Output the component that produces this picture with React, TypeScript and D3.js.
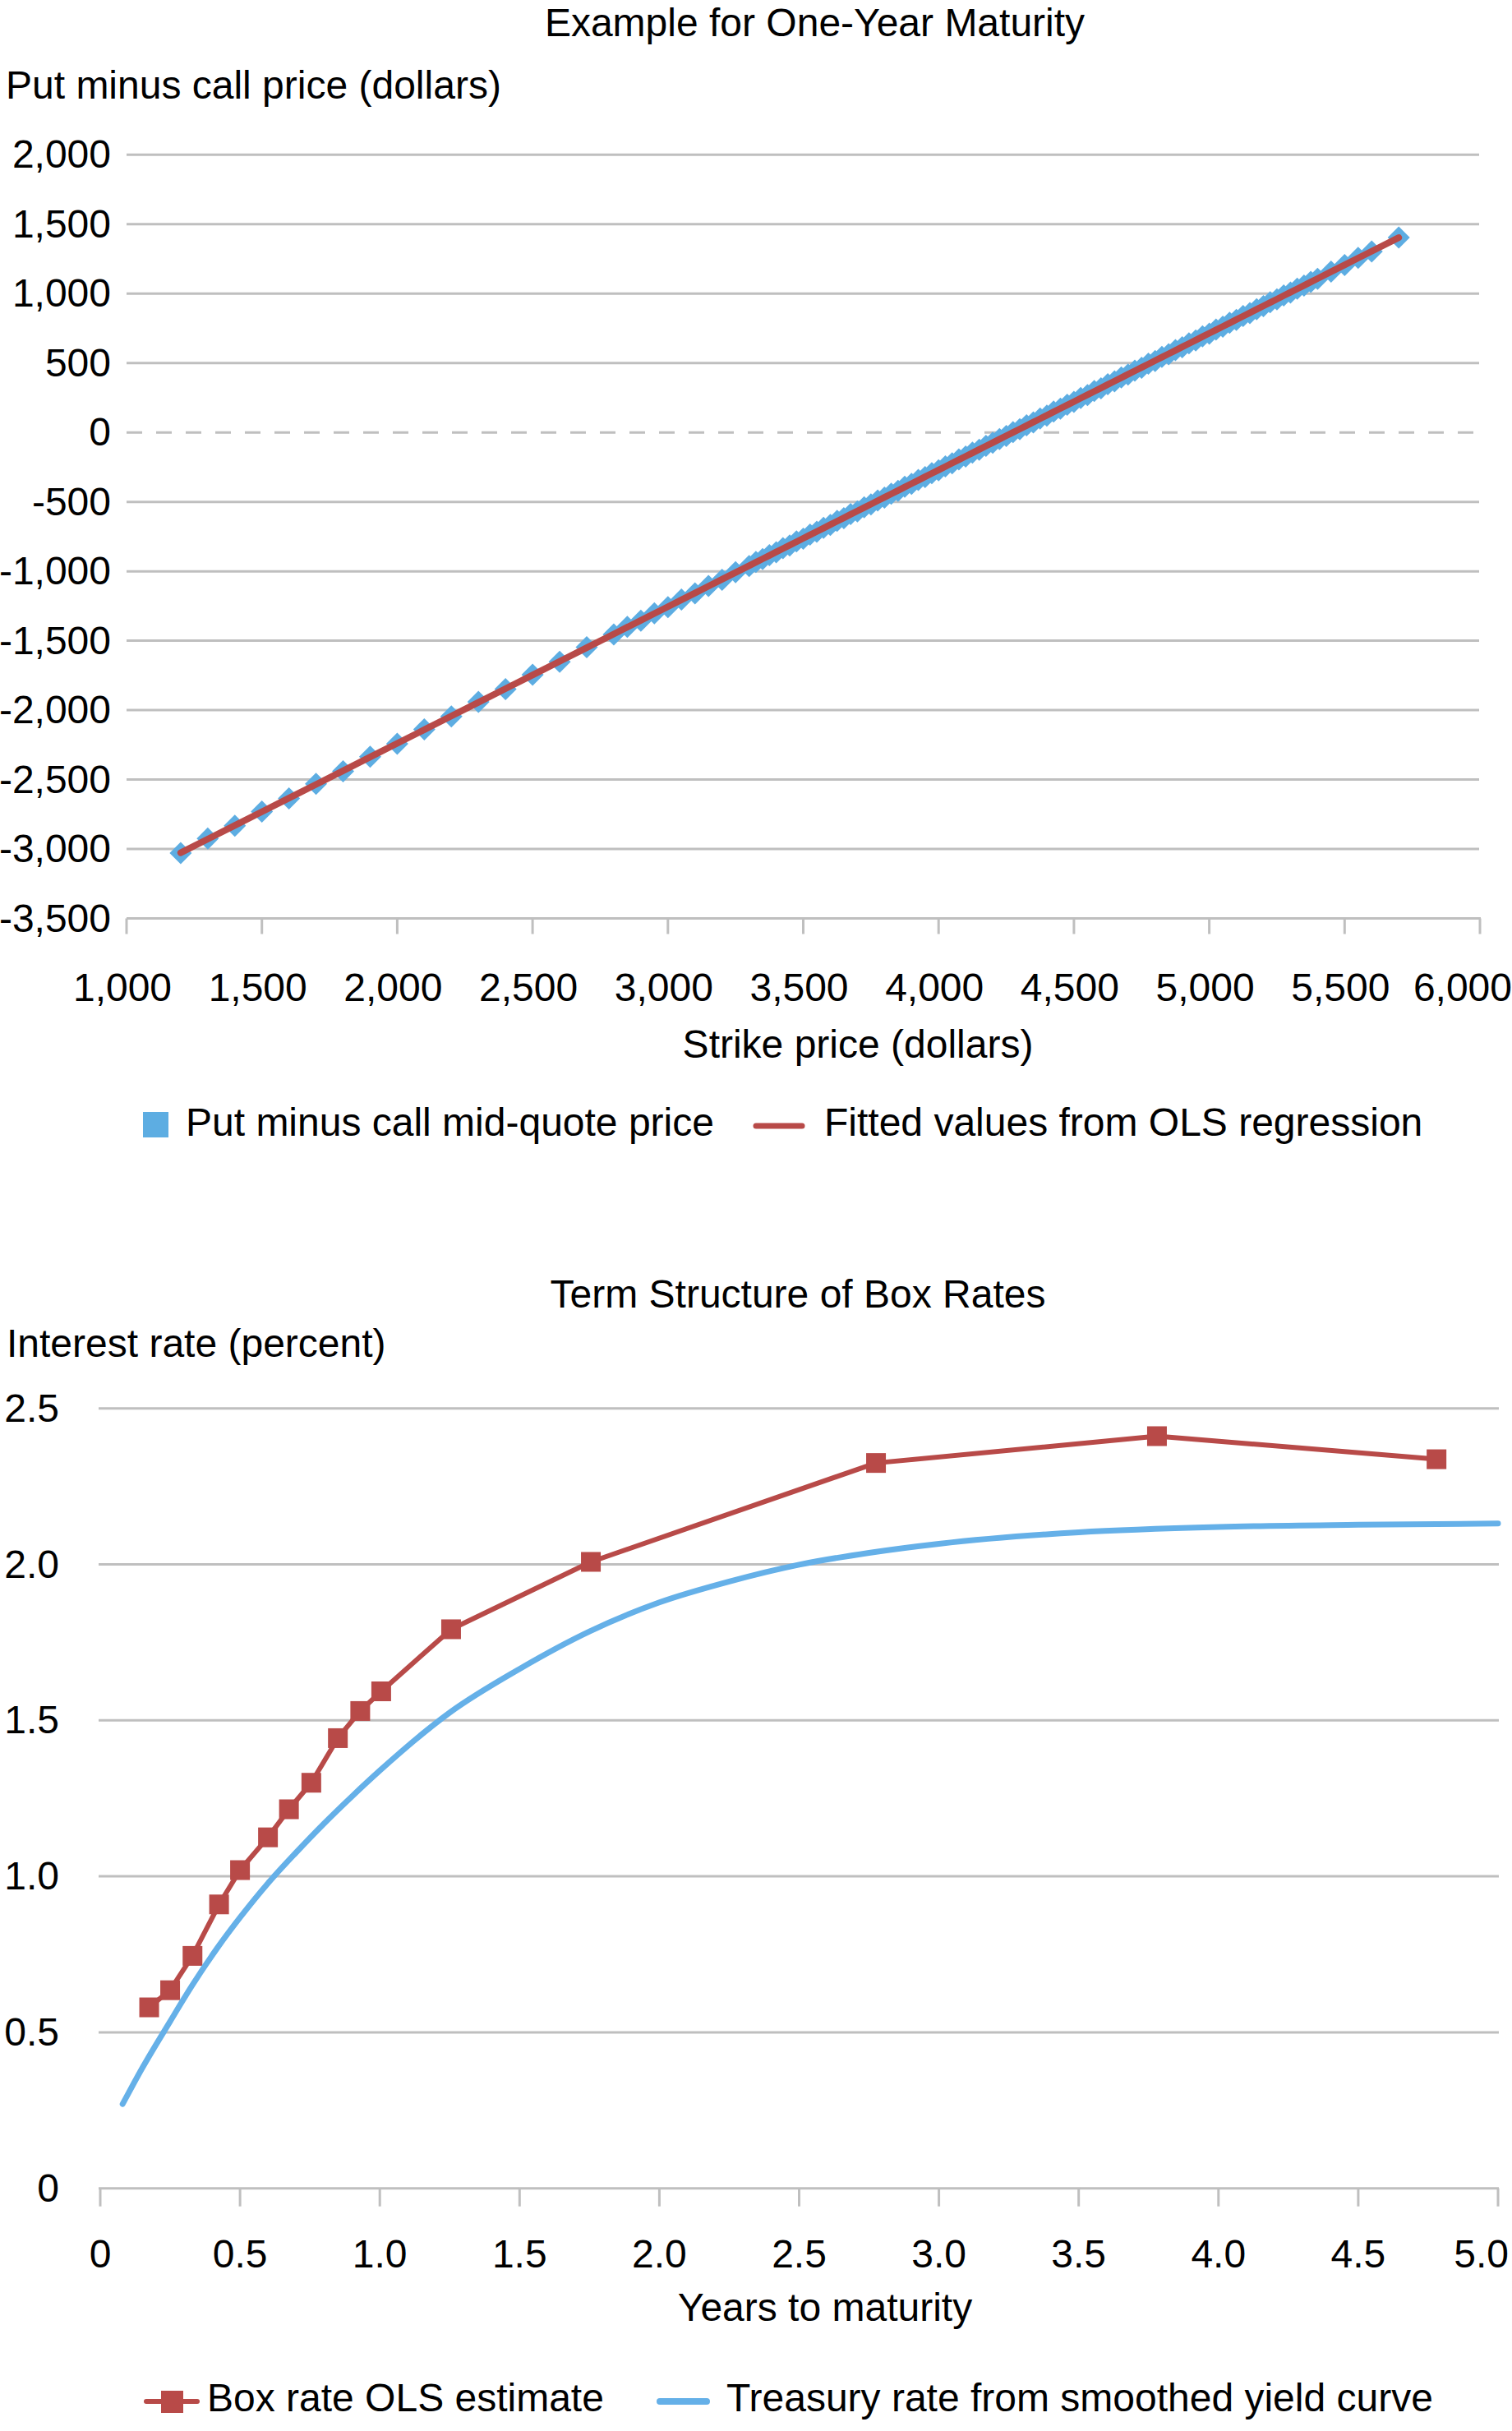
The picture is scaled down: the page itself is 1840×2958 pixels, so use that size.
import React from "react";
import * as d3 from "d3";

// ---------- Top chart data ----------
const strikes = [
  1200, 1300, 1400, 1500, 1600, 1700, 1800, 1900, 2000, 2100, 2200, 2300, 2400, 2500, 2600, 2700, 2800,
  2850, 2900, 2950, 3000, 3050, 3100, 3150, 3200, 3250, 3300,
  3325, 3350, 3375, 3400, 3425, 3450, 3475, 3500, 3525, 3550, 3575, 3600, 3625, 3650, 3675, 3700,
  3725, 3750, 3775, 3800, 3825, 3850, 3875, 3900, 3925, 3950, 3975, 4000, 4025, 4050, 4075, 4100,
  4125, 4150, 4175, 4200, 4225, 4250, 4275, 4300, 4325, 4350, 4375, 4400, 4425, 4450, 4475, 4500,
  4525, 4550, 4575, 4600, 4625, 4650, 4675, 4700, 4725, 4750, 4775, 4800, 4825, 4850, 4875, 4900,
  4925, 4950, 4975, 5000, 5025, 5050, 5075, 5100, 5125, 5150, 5175, 5200, 5225, 5250, 5275, 5300,
  5325, 5350, 5375, 5400,
  5450, 5500, 5550, 5600, 5700,
];
const putMinusCall = [
  -3030, -2925, -2833, -2730, -2636, -2531, -2440, -2335, -2242, -2138, -2045, -1940, -1849, -1745, -1652, -1547, -1455,
  -1400, -1356, -1302, -1258, -1203, -1159, -1105, -1061, -1006, -962,
  -933, -912, -884, -863, -834, -814, -785, -765, -736, -715, -687, -666, -637, -617, -588, -568,
  -539, -518, -490, -469, -441, -420, -391, -371, -342, -322, -293, -272, -244, -223, -194, -174,
  -145, -125, -96, -75, -47, -26, 2, 23, 52, 72, 101, 121, 150, 171, 199, 220,
  248, 269, 298, 318, 347, 368, 396, 417, 445, 466, 495, 515, 544, 564, 593, 614,
  642, 663, 692, 712, 741, 761, 790, 811, 839, 860, 888, 909, 938, 958, 987, 1008,
  1036, 1057, 1085, 1106,
  1158, 1206, 1257, 1304, 1404,
];
const strikeTicks = [1000, 1500, 2000, 2500, 3000, 3500, 4000, 4500, 5000, 5500, 6000];
const priceTicks = [2000, 1500, 1000, 500, 0, -500, -1000, -1500, -2000, -2500, -3000, -3500];

// ---------- Bottom chart data ----------
const boxMaturity = [0.175, 0.25, 0.33, 0.425, 0.5, 0.6, 0.675, 0.755, 0.85, 0.93, 1.005, 1.255, 1.755, 2.775, 3.78, 4.78];
const boxRate = [0.58, 0.635, 0.745, 0.91, 1.02, 1.125, 1.215, 1.3, 1.443, 1.53, 1.593, 1.792, 2.008, 2.325, 2.411, 2.337];
const treasuryMaturity = [0.08, 0.15, 0.25, 0.33, 0.42, 0.5, 0.6, 0.7, 0.8, 0.9, 1.0, 1.25, 1.5, 1.75, 2.0, 2.25, 2.5, 2.75, 3.0, 3.5, 4.0, 4.5, 5.0];
const treasuryRate = [0.27, 0.385, 0.535, 0.652, 0.772, 0.868, 0.978, 1.076, 1.169, 1.256, 1.339, 1.525, 1.665, 1.785, 1.878, 1.945, 1.999, 2.037, 2.066, 2.103, 2.12, 2.127, 2.131];
const yearTicks = [0, 0.5, 1.0, 1.5, 2.0, 2.5, 3.0, 3.5, 4.0, 4.5, 5.0];
const rateTicks = [0, 0.5, 1.0, 1.5, 2.0, 2.5];

const FONT = "'Liberation Sans', Arial, Helvetica, sans-serif";
const FS = 48;
const GRID = "#bfbfbf";
const RED = "#b84a48";
const BLUE_PT = "#5dade2";
const BLUE_LN = "#65b0e8";

const fmtPrice = (v: number) => (v < 0 ? "-" : "") + d3.format(",")(Math.abs(v));
const fmtYear = (v: number) => (v === 0 ? "0" : d3.format(".1f")(v));

export default function App() {
  // ---- top scales ----
  const xT = d3.scaleLinear().domain([1000, 6000]).range([154, 1801]);
  const yT = d3.scaleLinear().domain([-3500, 2000]).range([1117.5, 188.3]);

  // OLS fit of put-minus-call on strike
  const mx = d3.mean(strikes) as number;
  const my = d3.mean(putMinusCall) as number;
  let sxy = 0, sxx = 0;
  strikes.forEach((k, i) => {
    sxy += (k - mx) * (putMinusCall[i] - my);
    sxx += (k - mx) * (k - mx);
  });
  const slope = sxy / sxx;
  const intercept = my - slope * mx;
  const fitted = strikes.map((k) => intercept + slope * k);
  const fitLine = d3
    .line<number>()
    .x((_, i) => xT(strikes[i]))
    .y((v) => yT(v))(fitted) as string;

  const r = 13.5;
  const diamond = `M0,${-r}L${r},0L0,${r}L${-r},0Z`;

  // ---- bottom scales ----
  const xB = d3.scaleLinear().domain([0, 5]).range([122, 1823]);
  const yB = d3.scaleLinear().domain([0, 2.5]).range([2662.7, 1713.7]);
  const boxLine = d3
    .line<number>()
    .x((_, i) => xB(boxMaturity[i]))
    .y((v) => yB(v))(boxRate) as string;
  const tsyLine = d3
    .line<number>()
    .curve(d3.curveMonotoneX)
    .x((_, i) => xB(treasuryMaturity[i]))
    .y((v) => yB(v))(treasuryRate) as string;

  const sq = 24;

  return (
    <svg
      width={1840}
      height={2958}
      style={{ position: "absolute", left: 0, top: 0, background: "#fff" }}
      fontFamily={FONT}
      fontSize={FS}
    >
      <rect x={0} y={0} width={1840} height={2958} fill="#fff" />

      {/* ================= TOP CHART ================= */}
      <text x={991.5} y={44} textAnchor="middle" fill="#000">
        Example for One-Year Maturity
      </text>
      <text x={7} y={120} fill="#000">
        Put minus call price (dollars)
      </text>

      {priceTicks.map((v) => (
        <g key={"pt" + v}>
          {v === 0 ? (
            <line x1={154} x2={1802} y1={yT(v)} y2={yT(v)} stroke={GRID} strokeWidth={3} strokeDasharray="19 17" />
          ) : (
            <line x1={154} x2={v === -3500 ? 1802 : 1800} y1={yT(v)} y2={yT(v)} stroke={GRID} strokeWidth={3} />
          )}
          <text x={135} y={yT(v) + 16} textAnchor="end" fill="#000">
            {fmtPrice(v)}
          </text>
        </g>
      ))}

      {strikeTicks.map((v, i) => (
        <g key={"st" + v}>
          <line x1={xT(v)} x2={xT(v)} y1={yT(-3500)} y2={yT(-3500) + 19} stroke={GRID} strokeWidth={3} />
          {i === strikeTicks.length - 1 ? (
            <text x={1840} y={1218} textAnchor="end" fill="#000">
              {fmtPrice(v)}
            </text>
          ) : (
            <text x={xT(v) - 5} y={1218} textAnchor="middle" fill="#000">
              {fmtPrice(v)}
            </text>
          )}
        </g>
      ))}
      <text x={1044} y={1287} textAnchor="middle" fill="#000">
        Strike price (dollars)
      </text>

      {strikes.map((k, i) => (
        <path key={"d" + k} d={diamond} transform={`translate(${xT(k)},${yT(putMinusCall[i])})`} fill={BLUE_PT} />
      ))}
      <path d={fitLine} fill="none" stroke={RED} strokeWidth={8} strokeLinecap="round" strokeLinejoin="round" />

      {/* top legend */}
      <rect x={174} y={1353} width={31} height={31} fill={BLUE_PT} />
      <text x={226} y={1382} fill="#000">
        Put minus call mid-quote price
      </text>
      <line x1={920} x2={976} y1={1370} y2={1370} stroke={RED} strokeWidth={7} strokeLinecap="round" />
      <text x={1003} y={1382} fill="#000">
        Fitted values from OLS regression
      </text>

      {/* ================= BOTTOM CHART ================= */}
      <text x={971} y={1591} textAnchor="middle" fill="#000">
        Term Structure of Box Rates
      </text>
      <text x={8} y={1651} fill="#000">
        Interest rate (percent)
      </text>

      {rateTicks.map((v) => (
        <g key={"rt" + v}>
          <line x1={120} x2={1824} y1={yB(v)} y2={yB(v)} stroke={GRID} strokeWidth={3} />
          <text x={72} y={yB(v) + 16} textAnchor="end" fill="#000">
            {fmtYear(v)}
          </text>
        </g>
      ))}

      {yearTicks.map((v, i) => (
        <g key={"yt" + v}>
          <line x1={xB(v)} x2={xB(v)} y1={yB(0)} y2={yB(0) + 22} stroke={GRID} strokeWidth={3} />
          {i === yearTicks.length - 1 ? (
            <text x={1836} y={2759} textAnchor="end" fill="#000">
              {fmtYear(v)}
            </text>
          ) : (
            <text x={xB(v)} y={2759} textAnchor="middle" fill="#000">
              {fmtYear(v)}
            </text>
          )}
        </g>
      ))}
      <text x={1004} y={2824} textAnchor="middle" fill="#000">
        Years to maturity
      </text>

      <path d={boxLine} fill="none" stroke={RED} strokeWidth={6} strokeLinejoin="round" />
      {boxMaturity.map((t, i) => (
        <rect key={"b" + t} x={xB(t) - sq / 2} y={yB(boxRate[i]) - sq / 2} width={sq} height={sq} fill={RED} />
      ))}
      <path d={tsyLine} fill="none" stroke={BLUE_LN} strokeWidth={7} strokeLinecap="round" strokeLinejoin="round" />

      {/* bottom legend */}
      <line x1={178} x2={240} y1={2922} y2={2922} stroke={RED} strokeWidth={6} strokeLinecap="round" />
      <rect x={196} y={2909} width={27} height={27} fill={RED} />
      <text x={252} y={2934} fill="#000">
        Box rate OLS estimate
      </text>
      <line x1={803} x2={860} y1={2922} y2={2922} stroke={BLUE_LN} strokeWidth={8} strokeLinecap="round" />
      <text x={884} y={2934} fill="#000">
        Treasury rate from smoothed yield curve
      </text>
    </svg>
  );
}
